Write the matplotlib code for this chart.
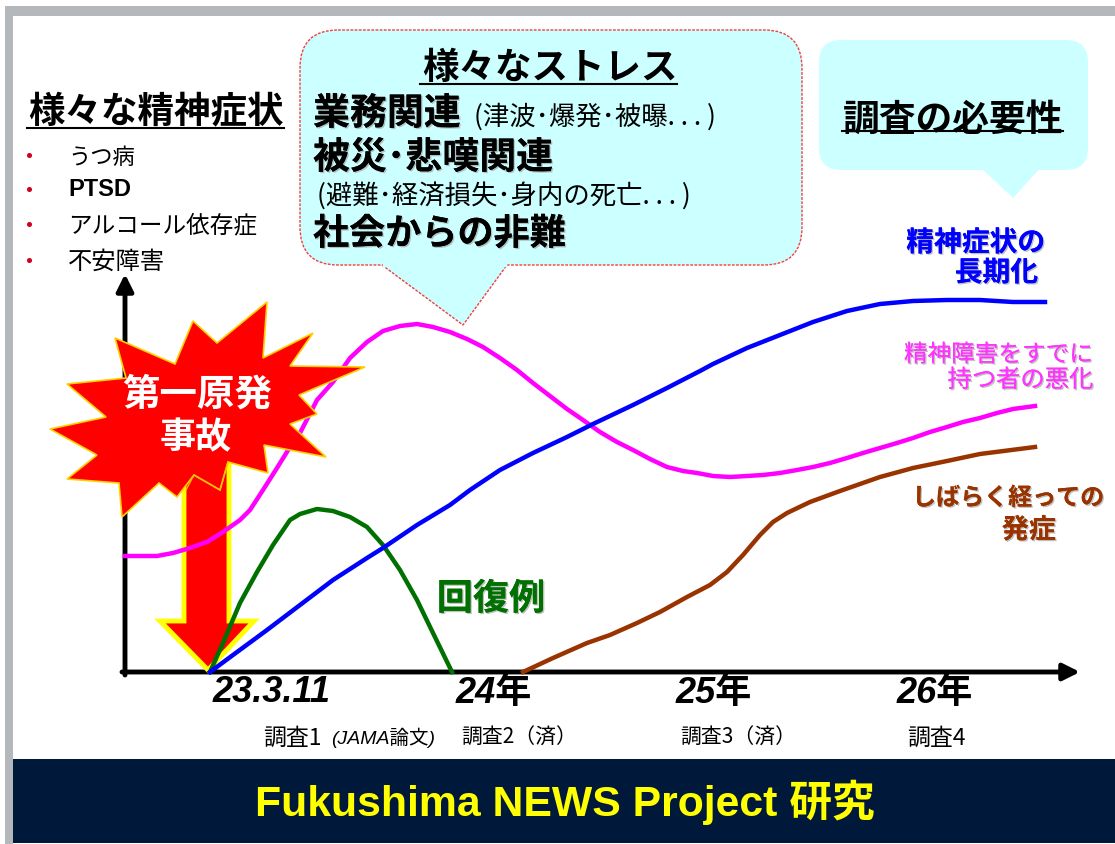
import matplotlib
matplotlib.use('Agg')
import matplotlib.pyplot as plt
import matplotlib.patheffects as pe
from matplotlib.patches import Polygon, Rectangle, FancyBboxPatch

plt.rcParams['font.family'] = ['Noto Sans CJK JP', 'DejaVu Sans']

# curves (x, y in image pixels)
blue_x = [210, 233, 267, 300, 333, 367, 383, 417, 450, 470, 500, 533, 567, 593, 633, 667, 700,
          713, 747, 780, 813, 847, 880, 913, 947, 980, 1013, 1045]
blue_y = [672, 655, 630, 605, 580, 558, 548, 525, 505, 490, 470, 453, 437, 424, 405, 388, 371,
          364, 348, 335, 322, 311, 304, 301, 300, 300, 302, 302]
magenta_x = [125, 140, 157, 173, 190, 207, 223, 240, 250, 263, 277, 290, 300, 317, 333, 350, 367,
             383, 400, 417, 433, 450, 467, 483, 500, 517, 533, 550, 567, 583, 600, 617, 633, 650,
             667, 683, 697, 713, 730, 747, 763, 780, 797, 813, 830, 847, 863, 880, 897, 913, 930,
             947, 963, 980, 997, 1013, 1035]
magenta_y = [556, 556, 556, 553, 548, 542, 532, 520, 510, 490, 468, 447, 433, 400, 382, 358, 342,
             331, 326, 324, 327, 332, 339, 347, 358, 370, 383, 396, 409, 420, 432, 442, 450, 459,
             467, 471, 473, 476, 477, 476, 475, 473, 470, 467, 463, 458, 453, 448, 443, 438, 432,
             427, 422, 418, 413, 409, 406]
green_x = [210, 223, 240, 257, 273, 290, 300, 317, 333, 350, 367, 383, 400, 417, 433, 452]
green_y = [672, 643, 603, 572, 545, 520, 514, 509, 511, 517, 527, 545, 570, 600, 633, 672]
brown_x = [523, 553, 587, 610, 637, 660, 687, 710, 727, 743, 760, 773, 787, 810, 840, 880, 913,
           947, 980, 1035]
brown_y = [672, 658, 643, 635, 623, 612, 597, 585, 572, 555, 535, 522, 513, 502, 491, 477, 468,
           461, 454, 447]

symptoms = ['うつ病', 'PTSD', 'アルコール依存症', '不安障害']
symptom_y = [155, 189, 224, 260]
symptom_size = [16, 17, 17, 17.5]
year_labels = ['23.3.11', '24年', '25年', '26年']
year_x = [272, 494, 714, 935]
survey_labels = ['調査1', '調査2（済）', '調査3（済）', '調査4']
survey_x = [292, 519, 738, 936]
survey_size = [16.5, 15, 15, 16.5]

star_x = [267, 263, 313, 290, 365, 299, 317, 290, 326, 264, 268, 228, 220, 194, 177, 159,
          122, 119, 67, 97, 50, 106, 67, 126, 115, 175, 193, 217]
star_y = [302, 358, 333, 366, 367, 395, 414, 424, 457, 445, 473, 462, 490, 475, 497, 483,
          517, 483, 479, 455, 429, 417, 384, 378, 338, 364, 321, 343]

W, H = 1115, 844
fig = plt.figure(figsize=(W / 100, H / 100), dpi=100)
ax = fig.add_axes([0, 0, 1, 1])
ax.set_xlim(0, W)
ax.set_ylim(H, 0)
ax.axis('off')

# slide frame and banner
ax.add_patch(Rectangle((5, 6), W, H, fc='#b4b8bd', ec='none', zorder=0))
ax.add_patch(Rectangle((13, 16), W, H, fc='white', ec='none', zorder=0.5))
ax.add_patch(Rectangle((13, 759), W, 84, fc='#00183a', ec='none', zorder=1))
ax.text(565, 802, 'Fukushima NEWS Project 研究', color='#ffff00', fontsize=30.8, fontweight='bold',
        family=['Liberation Sans', 'Noto Sans CJK JP'], ha='center', va='center', zorder=2)

# speech bubbles
bubble_fc = '#ccffff'
ax.add_patch(FancyBboxPatch((300, 30), 502, 235, boxstyle='round,pad=0,rounding_size=38',
                            fc=bubble_fc, ec='#f04040', lw=1, ls=(0, (2, 1)), zorder=2))
ax.add_patch(Polygon([(382, 265), (463, 325), (507, 265)], closed=False, fc=bubble_fc,
                     ec='#f04040', lw=1, ls=(0, (2, 1)), zorder=2))
ax.plot([384, 505], [265, 265], color=bubble_fc, lw=2.5, zorder=2.1)
ax.add_patch(FancyBboxPatch((819, 40), 269, 130, boxstyle='round,pad=0,rounding_size=22',
                            fc=bubble_fc, ec='none', zorder=2))
ax.add_patch(Polygon([(978, 165), (1013, 198), (1043, 165)], fc=bubble_fc, ec='none', zorder=2))

# axes
head = '-|>,head_width=0.5,head_length=1.0'
ax.annotate('', xy=(125, 274), xytext=(125, 675),
            arrowprops=dict(arrowstyle=head, color='black', lw=3.5, shrinkA=0, shrinkB=0), zorder=3)
ax.annotate('', xy=(1080, 672), xytext=(122, 672),
            arrowprops=dict(arrowstyle=head, color='black', lw=3.5, shrinkA=0, shrinkB=0), zorder=3)

# explosion + arrow
ax.add_patch(Polygon(list(zip([184, 229, 229, 254, 208, 160, 184], [470, 460, 621, 621, 670, 621, 621])),
                     fc='#ff0000', ec='#ffff00', lw=3.5, zorder=3.5))
ax.plot(magenta_x, magenta_y, color='#ff00ff', lw=3.2, zorder=4)
ax.add_patch(Polygon(list(zip(star_x, star_y)), fc='#ff0000', ec='#ffd000', lw=1.2, zorder=5))
ax.plot([186, 194, 220, 228], [490, 475, 490, 462], color='#ffc000', lw=0.9, zorder=5.1)
ax.plot(blue_x, blue_y, color='#0000ff', lw=3.2, zorder=4.3)
ax.plot(green_x, green_y, color='#007000', lw=3.2, zorder=4.2)
ax.plot(brown_x, brown_y, color='#993300', lw=3.2, zorder=4.2)

shadow = [pe.withSimplePatchShadow(offset=(1, -1), shadow_rgbFace='#999999', alpha=0.6), pe.Normal()]


def label(x, y, s, size, color='black', weight='normal', ha='center', fx=False, **kw):
    # the CJK font sits about 2px high when centred
    t = ax.text(x, y + 2, s, fontsize=size, color=color, fontweight=weight, ha=ha, va='center', zorder=6, **kw)
    if fx:
        t.set_path_effects(shadow)
    return t


# left list
label(156, 110, '様々な精神症状', 26.3, weight='bold')
ax.plot([27, 284], [128, 128], color='black', lw=1.5, zorder=6)
for s, y, size in zip(symptoms, symptom_y, symptom_size):
    ax.plot([29], [y], marker='o', ms=2.6, color='#d00020', zorder=6)
    if s == 'PTSD':
        label(68, y - 1, s, size, weight='bold', ha='left', family=['Liberation Sans'])
    else:
        label(68, y, s, size, ha='left')

# stress bubble
label(550, 66, '様々なストレス', 26.3, weight='bold')
ax.plot([420, 677], [84, 84], color='black', lw=1.5, zorder=6)
label(313, 112, '業務関連', 26.6, weight='bold', ha='left', fx=True)
label(474, 115, '(津波･爆発･被曝. . . )', 19, ha='left')
label(313, 156, '被災･悲嘆関連', 26.6, weight='bold', ha='left', fx=True)
label(317, 194, '(避難･経済損失･身内の死亡. . . )', 19, ha='left')
label(313, 232, '社会からの非難', 26, weight='bold', ha='left', fx=True)

# right bubble
label(953, 118, '調査の必要性', 26.5, weight='bold')
ax.plot([842, 1063], [131, 131], color='black', lw=1.5, zorder=6)

# curve labels
label(1045, 241, '精神症状の', 20, color='#0000ff', weight='bold', ha='right', fx=True)
label(1038, 271, '長期化', 20, color='#0000ff', weight='bold', ha='right', fx=True)
label(1093, 353, '精神障害をすでに', 17, color='#ff33ff', ha='right', fx=True)
label(1093, 378, '持つ者の悪化', 17.5, color='#ff33ff', ha='right', fx=True)
label(1104, 496, 'しばらく経っての', 17.3, color='#993300', weight='bold', ha='right', fx=True)
label(1056, 528, '発症', 19.5, color='#993300', weight='bold', ha='right', fx=True)
label(491, 597, '回復例', 26, color='#007000', weight='bold', fx=True)

# explosion text
ax.text(197, 394, '第一原発', fontsize=27, color='white', fontweight='bold', ha='center', va='center', zorder=7)
ax.text(196, 438, '事故', fontsize=26, color='white', fontweight='bold', ha='center', va='center', zorder=7)

# x labels
for s, x in zip(year_labels, year_x):
    ax.text(x, 693, s, fontsize=26, fontweight='bold', style='italic', ha='center', va='center', zorder=6,
            family=['Liberation Sans', 'Noto Sans CJK JP'])
for s, x, size in zip(survey_labels, survey_x, survey_size):
    ax.text(x, 738, s, fontsize=size, ha='center', va='center', zorder=6)
ax.text(331, 738, '(JAMA論文)', fontsize=14, style='italic', ha='left', va='center', zorder=6,
        family=['Liberation Sans', 'Noto Sans CJK JP'])

fig.savefig('out.png', dpi=100)
